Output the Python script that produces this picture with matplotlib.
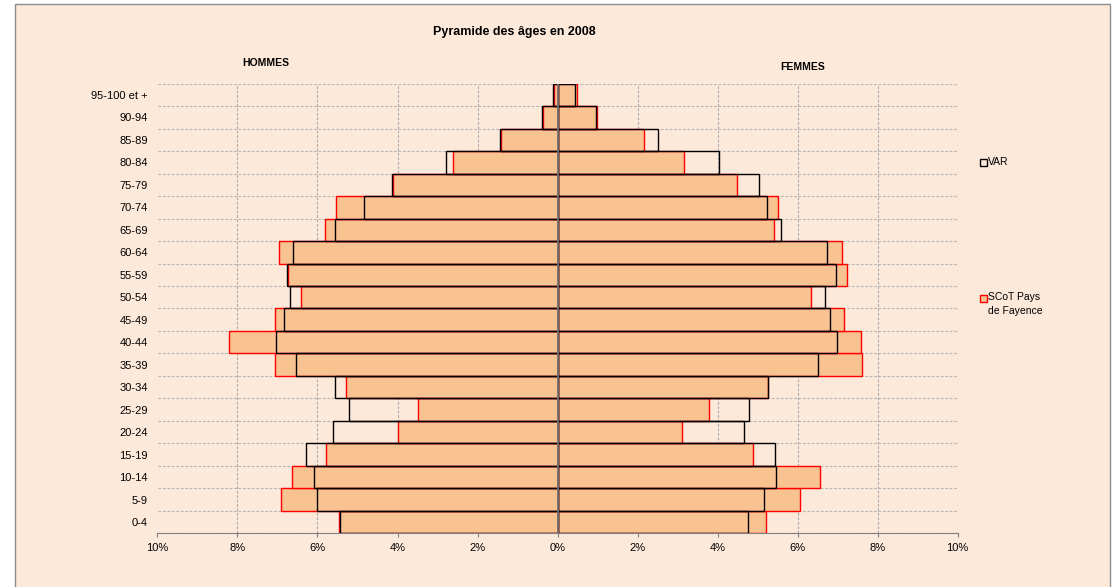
import matplotlib
matplotlib.use("Agg")
import matplotlib.pyplot as plt
from matplotlib.patches import Rectangle
import numpy as np

plt.rcParams['font.family'] = ['Liberation Sans', 'DejaVu Sans']

categories = ["0-4", "5-9", "10-14", "15-19", "20-24", "25-29", "30-34", "35-39",
              "40-44", "45-49", "50-54", "55-59", "60-64", "65-69", "70-74",
              "75-79", "80-84", "85-89", "90-94", "95-100 et +"]

# Values in % (men shown on the left)
var_hommes = [5.43, 6.02, 6.08, 6.30, 5.62, 5.22, 5.57, 6.53, 7.04, 6.83,
              6.68, 6.77, 6.62, 5.56, 4.85, 4.14, 2.80, 1.43, 0.39, 0.11]
var_femmes = [4.75, 5.16, 5.46, 5.44, 4.65, 4.79, 5.26, 6.50, 6.98, 6.82,
              6.68, 6.96, 6.74, 5.58, 5.23, 5.03, 4.03, 2.51, 0.95, 0.44]
scot_hommes = [5.46, 6.91, 6.63, 5.78, 4.00, 3.49, 5.30, 7.07, 8.20, 7.06,
               6.42, 6.73, 6.97, 5.82, 5.55, 4.11, 2.62, 1.41, 0.36, 0.09]
scot_femmes = [5.20, 6.05, 6.56, 4.88, 3.10, 3.78, 5.25, 7.60, 7.58, 7.16,
               6.33, 7.23, 7.12, 5.41, 5.51, 4.48, 3.15, 2.15, 0.98, 0.48]

xticks = [-10, -8, -6, -4, -2, 0, 2, 4, 6, 8, 10]

BG = '#FDE9DA'
FILL = '#F9C291'

fig = plt.figure(figsize=(11.18, 5.87), dpi=100, facecolor='white')
frame = Rectangle((15 / 1118, -0.01), (1110 - 15) / 1118, 1 - 4 / 587 + 0.01,
                  transform=fig.transFigure, facecolor=BG, edgecolor='#8c8c8c',
                  linewidth=1, zorder=-10)
fig.patches.append(frame)

ax = fig.add_axes([157.5 / 1118, 1 - 533.3 / 587, 800 / 1118, (533.3 - 83.7) / 587])
ax.set_facecolor(BG)

n = len(categories)
y = np.arange(n)

ax.barh(y, [-v for v in scot_hommes], height=1.0, color=FILL, edgecolor='red',
        linewidth=1, zorder=2)
ax.barh(y, scot_femmes, height=1.0, color=FILL, edgecolor='red',
        linewidth=1, zorder=2)
ax.barh(y, [-v for v in var_hommes], height=1.0, color='none', edgecolor='black',
        linewidth=1, zorder=3)
ax.barh(y, var_femmes, height=1.0, color='none', edgecolor='black',
        linewidth=1, zorder=3)

ax.axvline(0, color='#7a7a7a', linewidth=1.2, zorder=4)

ax.set_xlim(-10, 10)
ax.set_ylim(-0.5, n - 0.5)
ax.set_xticks(xticks)
ax.set_xticklabels([f"{abs(t)}%" for t in xticks], fontsize=8)
ax.set_yticks(y)
ax.set_yticklabels(categories, fontsize=8)
ax.set_yticks(np.arange(-0.5, n, 1.0), minor=True)
ax.tick_params(axis='y', which='both', length=0, pad=7)
ax.tick_params(axis='x', which='major', length=3, color='#808080', pad=4)
ax.grid(axis='x', which='major', linestyle=(0, (2.5, 1.5)), color='#ababab', linewidth=0.8, zorder=1)
ax.grid(axis='y', which='minor', linestyle=(0, (2.5, 1.5)), color='#b5b5b5', linewidth=0.8, zorder=1)
ax.set_axisbelow(True)
for s in ['left', 'top', 'right']:
    ax.spines[s].set_visible(False)
ax.spines['bottom'].set_color('#808080')

fig.text(514 / 1118, 1 - 32 / 587, "Pyramide des âges en 2008", ha='center', va='center',
         fontsize=9, fontweight='bold')
fig.text(266 / 1118, 1 - 63 / 587, "HOMMES", ha='center', va='center',
         fontsize=7.5, fontweight='bold')
fig.text(803 / 1118, 1 - 67 / 587, "FEMMES", ha='center', va='center',
         fontsize=7.5, fontweight='bold')

# Legend
fig.patches.append(Rectangle((980 / 1118, 1 - 166 / 587), 7 / 1118, 7 / 587,
                             transform=fig.transFigure, facecolor=BG,
                             edgecolor='black', linewidth=1, zorder=5))
fig.text(988 / 1118, 1 - 162 / 587, "VAR", ha='left', va='center', fontsize=7.5)
fig.patches.append(Rectangle((980 / 1118, 1 - 302 / 587), 7 / 1118, 7 / 587,
                             transform=fig.transFigure, facecolor=FILL,
                             edgecolor='red', linewidth=1, zorder=5))
fig.text(988 / 1118, 1 - 292 / 587, "SCoT Pays\nde Fayence", ha='left', va='top',
         fontsize=7.5, linespacing=1.55)

fig.savefig("out.png", dpi=100, facecolor='white')
